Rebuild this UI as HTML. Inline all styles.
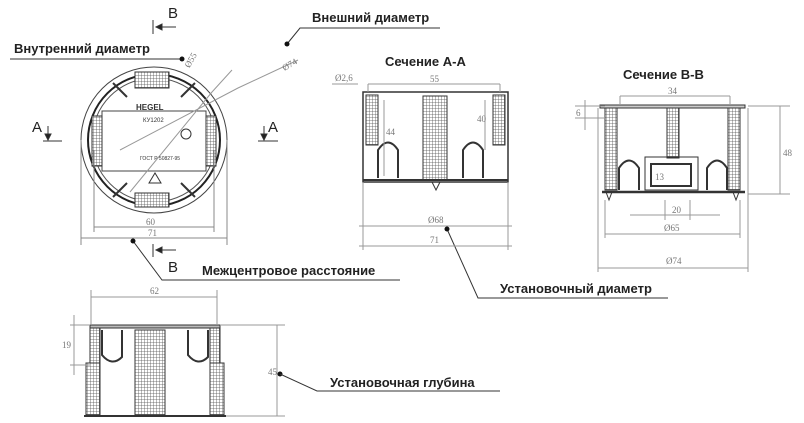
<!DOCTYPE html>
<html><head><meta charset="utf-8"><style>
html,body{margin:0;padding:0;background:#fff;}
svg{display:block;}
.l{font-family:"Liberation Sans","DejaVu Sans",sans-serif;font-weight:bold;font-size:13px;fill:#222;}
.d{font-family:"Liberation Serif",serif;font-size:9px;fill:#777;}
.ab{font-family:"Liberation Sans",sans-serif;font-size:15px;fill:#222;}
</style></head><body>
<svg width="804" height="423" viewBox="0 0 804 423" xmlns="http://www.w3.org/2000/svg">
<defs>
<pattern id="h" width="3" height="3" patternUnits="userSpaceOnUse"><rect width="3" height="3" fill="#fff"/><path d="M0 0H3M0 0V3" stroke="#555" stroke-width="0.8"/></pattern>
</defs>
<g fill="none" stroke="#333" stroke-width="1">
<circle cx="154" cy="140" r="73" stroke="#444"/>
<circle cx="154" cy="140" r="66" stroke="#222" stroke-width="2"/>
<circle cx="154" cy="140" r="62" stroke="#555"/>
<rect x="102" y="111" width="104" height="60" stroke="#444"/>
<rect x="92" y="116" width="10" height="50" fill="url(#h)"/>
<rect x="206" y="116" width="10" height="50" fill="url(#h)"/>
<rect x="135" y="72" width="34" height="16" fill="url(#h)"/>
<rect x="135" y="193" width="34" height="14" fill="url(#h)"/>
<path d="M113 83l14 14M195 83l-14 14M113 197l14-14M195 197l-14-14" stroke-width="2"/>
<path d="M149 183l6-10 6 10z"/>
<circle cx="186" cy="134" r="5"/>
<path d="M130 192L212 92L232 70" stroke="#999"/>
<path d="M120 150L238 88L298 60" stroke="#999"/>
<g stroke="#888">
<path d="M81 140V245M227 140V245M94 150V232M214 150V232"/>
<path d="M94 227H214M81 238H227"/>
</g>
<path d="M10 59H182M305 28H440L300 28L287 44M133 241L162 280H400M447 229L478 298H668"/>
<path d="M153 20V34M176 27H156M43 141H62M48 126V138M258 141H278M264 126V138M153 244V257M176 250H156"/>
<path d="M156 27l6-3v6z M48 140l-3-6h6z M264 140l-3-6h6z M156 250l6-3v6z" fill="#222"/>
</g>
<g fill="#111"><circle cx="182" cy="59" r="2.5"/><circle cx="287" cy="44" r="2.5"/><circle cx="133" cy="241" r="2.5"/><circle cx="447" cy="229" r="2.5"/><circle cx="280" cy="374" r="2.5"/></g>
<text class="l" x="312" y="22">Внешний диаметр</text>
<text class="l" x="14" y="53">Внутренний диаметр</text>
<text class="l" x="202" y="275">Межцентровое расстояние</text>
<text class="l" x="500" y="293">Установочный диаметр</text>
<text class="l" x="330" y="387">Установочная глубина</text>
<text class="l" x="385" y="66">Сечение А-А</text>
<text class="l" x="623" y="79">Сечение В-В</text>
<text class="ab" x="168" y="18">B</text><text class="ab" x="168" y="272">B</text>
<text class="ab" x="32" y="132">A</text><text class="ab" x="268" y="132">A</text>
<text x="136" y="110" font-family="Liberation Sans" font-size="8" font-weight="bold" fill="#333">HEGEL</text>
<text x="143" y="122" font-family="Liberation Sans" font-size="6" fill="#333">КУ1202</text>
<text x="140" y="160" font-family="Liberation Sans" font-size="5" fill="#333">ГОСТ Р 50827-95</text>
<text class="d" x="146" y="225">60</text><text class="d" x="148" y="236">71</text>
<text class="d" x="180" y="68" transform="rotate(-60 185 60)">Ø55</text>
<text class="d" x="282" y="70" transform="rotate(-30 285 66)">Ø74</text>
<g fill="none" stroke="#333">
<rect x="363" y="92" width="145" height="90" stroke-width="1.5"/>
<rect x="366" y="95" width="12" height="50" fill="url(#h)"/>
<rect x="493" y="95" width="12" height="50" fill="url(#h)"/>
<rect x="423" y="96" width="24" height="84" fill="url(#h)"/>
<path d="M378 178V150q10-15 20 0V178M463 178V150q10-15 20 0V178" stroke-width="2"/>
<path d="M363 180H508" stroke-width="2"/>
<path d="M432 182l4 8 4-8"/>
<g stroke="#999"><path d="M363 182V250M508 182V250M359 226H512M359 246H512M368 84H500M368 84V92M500 84V92M332 84H358M384 100V176M485 100V150"/></g>
</g>
<text class="d" x="335" y="81">Ø2,6</text><text class="d" x="430" y="82">55</text>
<text class="d" x="428" y="223">Ø68</text><text class="d" x="430" y="243">71</text>
<text class="d" x="386" y="135">44</text><text class="d" x="477" y="122">40</text>
<g fill="none" stroke="#333">
<rect x="600" y="105" width="145" height="3" fill="#ccc"/>
<rect x="605" y="108" width="12" height="82" fill="url(#h)"/>
<rect x="728" y="108" width="12" height="82" fill="url(#h)"/>
<rect x="667" y="108" width="12" height="50" fill="url(#h)"/>
<rect x="645" y="157" width="53" height="33" stroke-width="1"/>
<rect x="651" y="164" width="40" height="22" stroke-width="2"/>
<path d="M619 190V168q10-15 20 0V190M707 190V168q10-15 20 0V190" stroke-width="2"/>
<path d="M602 192H745" stroke-width="2.5"/>
<path d="M606 192l3 8 3-8M733 192l3 8 3-8"/>
<g stroke="#999"><path d="M598 108V272M748 108V272M605 200V238M740 200V238M598 268H748M605 234H740M630 215H720M665 200V220M690 200V220M620 96H730M620 96V104M730 96V104M780 106V194M748 106H790M748 194H790M585 100V130M575 106H605M575 118H605"/></g>
</g>
<text class="d" x="668" y="94">34</text><text class="d" x="672" y="213">20</text>
<text class="d" x="664" y="231">Ø65</text><text class="d" x="666" y="264">Ø74</text>
<text class="d" x="783" y="156">48</text><text class="d" x="576" y="116">6</text><text class="d" x="655" y="180">13</text>
<g fill="none" stroke="#333">
<rect x="90" y="325" width="130" height="3" fill="#bbb"/>
<rect x="90" y="328" width="10" height="35" fill="url(#h)"/>
<rect x="210" y="328" width="10" height="35" fill="url(#h)"/>
<rect x="86" y="363" width="14" height="52" fill="url(#h)"/>
<rect x="210" y="363" width="14" height="52" fill="url(#h)"/>
<rect x="135" y="330" width="30" height="85" fill="url(#h)"/>
<path d="M102 330v25q10 12 20 2V330M188 330v25q10 12 20 2V330" stroke-width="2"/>
<path d="M84 416H226" stroke-width="2"/>
<g stroke="#999"><path d="M91 290V325M217 290V325M91 297H217M70 325H90M70 365H90M74 315V375M220 325H285M226 416H285M277 325V416"/></g>
<path d="M280 374L317 391H500"/>
</g>
<text class="d" x="150" y="294">62</text><text class="d" x="62" y="348">19</text><text class="d" x="268" y="375">45</text>
</svg>
</body></html>
